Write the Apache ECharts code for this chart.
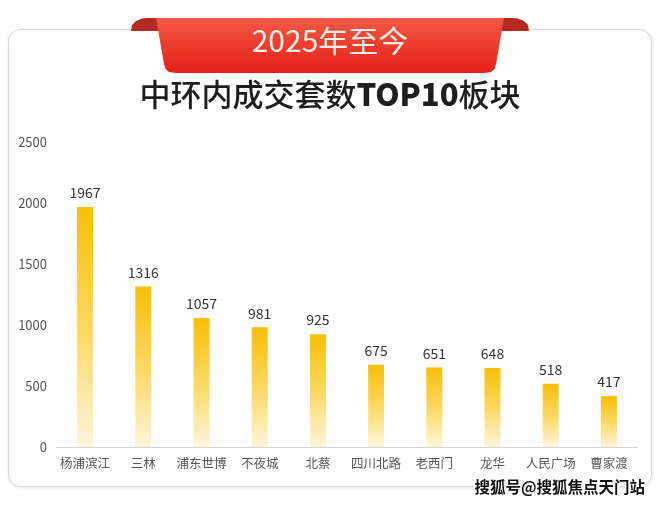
<!DOCTYPE html>
<html><head><meta charset="utf-8">
<script src="https://cdn.jsdelivr.net/npm/echarts@6/dist/echarts.min.js"></script>
<style>html,body{margin:0;padding:0;background:#fff}#c{width:660px;height:505px}</style>
</head><body><div id="c"></div>
<script>
const categories = ['杨浦滨江','三林','浦东世博','不夜城','北蔡','四川北路','老西门','龙华','人民广场','曹家渡'];
const values = [1967,1316,1057,981,925,675,651,648,518,417];
const yTicks = [0,500,1000,1500,2000,2500];
const bannerText = '2025年至今';
const titleCn1 = '中环内成交套数';
const titleBold = 'TOP10';
const titleCn2 = '板块';
const watermark = '搜狐号@搜狐焦点天门站';

const FONT = '"Noto Sans CJK SC","Noto Sans",sans-serif';
const chart = echarts.init(document.getElementById('c'));
chart.setOption({
  backgroundColor: '#fff',
  animation: false,
  grid: {left: 56, right: 22, top: 142, bottom: 58},
  xAxis: {
    type: 'category', data: categories,
    axisLine: {show: true, lineStyle: {color: '#d5d5d5', width: 1}},
    axisTick: {show: false},
    axisLabel: {color: '#555', fontSize: 12.5, margin: 10, fontFamily: FONT, interval: 0}
  },
  yAxis: {
    type: 'value', min: yTicks[0], max: yTicks[yTicks.length-1], interval: 500,
    axisLine: {show: false}, axisTick: {show: false}, splitLine: {show: false},
    axisLabel: {color: '#555', fontSize: 13, margin: 9, fontFamily: FONT, formatter: v => String(v)}
  },
  series: [{
    type: 'bar', data: values, barWidth: 16,
    itemStyle: {color: new echarts.graphic.LinearGradient(0,0,0,1,[
      {offset: 0, color: '#F8BE08'},
      {offset: 0.5, color: '#FCD860'},
      {offset: 1, color: '#FFF5DC'}
    ])},
    label: {show: true, position: 'top', distance: 7, color: '#333', fontSize: 14, fontFamily: FONT}
  }],
  graphic: [
    {type: 'rect', z: -10, shape: {x: 8.5, y: 29.5, width: 643, height: 457, r: 12},
     style: {fill: '#fff', stroke: '#d8d8d8', lineWidth: 1, shadowBlur: 4, shadowColor: 'rgba(0,0,0,0.08)', shadowOffsetY: 1}},
    {type: 'polygon', z: 10, shape: {points: [[131,31],[132,25],[136,21],[142,18.5],[148,18],[166,18],[170,31]]},
     style: {fill: '#b52a20'}},
    {type: 'polygon', z: 10, shape: {points: [[529,31],[528,25],[524,21],[518,18.5],[512,18],[494,18],[490,31]]},
     style: {fill: '#b52a20'}},
    {type: 'polygon', z: 11, shape: {points: [[156,18],[504,18],[496,64],[494.5,69],[491,72],[484,73],[176,73],[169,72],[165.5,69],[164,64]]},
     style: {fill: new echarts.graphic.LinearGradient(0,0,0,1,[
       {offset: 0, color: '#f25a45'}, {offset: 1, color: '#e51f17'}])}},
    {type: 'text', z: 12, left: 'center', top: 26,
     style: {text: bannerText, fill: '#fdeee6', fontSize: 30, fontFamily: FONT, fontWeight: 'normal'}},
    {type: 'text', z: 12, left: 'center', top: 79,
     style: {rich: {
       a: {fontSize: 31, fontFamily: FONT, fill: '#1e1e1e', fontWeight: 500},
       b: {fontSize: 31, fontFamily: FONT, fill: '#1e1e1e', fontWeight: 900}
     }, text: '{a|' + titleCn1 + '}{b|' + titleBold + '}{a|' + titleCn2 + '}'}},
    {type: 'text', z: 20, left: 473, top: 478,
     style: {text: watermark, fill: '#111', fontSize: 15.5, fontWeight: 'bold', fontFamily: FONT,
             stroke: '#fff', lineWidth: 3}}
  ]
});
</script></body></html>
